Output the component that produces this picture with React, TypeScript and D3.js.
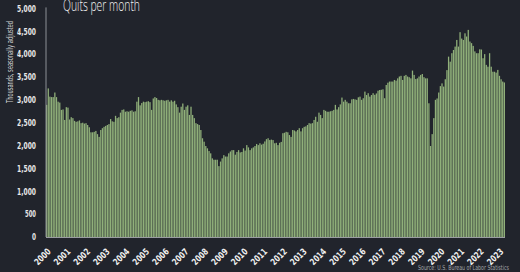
import React from 'react';
import * as d3 from 'd3';

// Monthly quits, thousands, seasonally adjusted
const quits: number[] = [
  2890,
  3250, 3070, 3060, 3060, 3160, 3060, 2960, 2940, 2780, 2790, 2560, 2840,
  2830, 2570, 2620, 2600, 2540, 2520, 2530, 2550, 2490, 2500, 2480, 2490,
  2450, 2400, 2290, 2290, 2300, 2320, 2250, 2190, 2340, 2380, 2410, 2430,
  2450, 2470, 2580, 2530, 2520, 2650, 2600, 2620, 2720, 2780, 2790, 2740,
  2750, 2740, 2760, 2770, 2740, 2750, 2960, 3060, 2880, 2930, 2960, 2950,
  2960, 2970, 2950, 2780, 3030, 3060, 3040, 3000, 2990, 3000, 2990, 2980,
  2990, 3000, 2960, 2990, 2960, 2980, 2900, 2840, 2720, 2850, 2920, 2780,
  2850, 2880, 2670, 2850, 2670, 2600, 2490, 2470, 2450, 2340, 2160, 2085,
  1990, 1940, 1880, 1830, 1720, 1690, 1690, 1690, 1550, 1650, 1720, 1790,
  1760, 1760, 1830, 1870, 1900, 1900, 1800, 1860, 1900, 1850, 1860, 1940,
  1890, 2010, 1960, 1900, 1940, 1960, 1990, 2035, 2010, 2050, 2020, 2040,
  2090, 2140, 2160, 2120, 2130, 2120, 2050, 2060, 2010, 2060, 2080, 2270,
  2280, 2300, 2290, 2230, 2190, 2340, 2330, 2310, 2340, 2380, 2310, 2380,
  2410, 2420, 2450, 2490, 2480, 2490, 2560, 2630, 2520, 2720, 2670, 2600,
  2780, 2760, 2740, 2740, 2750, 2760, 2780, 2890, 2790, 2840, 2900, 3050,
  2960, 3000, 2960, 2925, 2925, 3010, 3020, 3010, 3000, 3055, 3070, 3000,
  3035, 3180, 3105, 3145, 3070, 3105, 3145, 3110, 3140, 3200, 3215, 3220,
  3230, 3035, 3325, 3375, 3400, 3400, 3400, 3435, 3420, 3470, 3510, 3525,
  3435, 3525, 3545, 3510, 3495, 3470, 3640, 3545, 3455, 3470, 3510, 3545,
  3565, 3495, 3470, 3470, 2925, 1990, 2250, 2600, 3000, 3030, 3160, 3300,
  3360, 3290, 3450, 3650, 3945, 3835, 4020, 4090, 4165, 4310, 4165, 4480,
  4340, 4310, 4455, 4385, 4530, 4275, 4240, 4180, 4060, 4020, 4020, 4105,
  4100, 3910, 4000, 3765, 3725, 4020, 3725, 3615, 3615, 3595, 3655, 3525,
  3450, 3400, 3380,
];

const yearLabels: string[] = [
  '2000', '2001', '2002', '2003', '2004', '2005', '2006', '2007',
  '2008', '2009', '2010', '2011', '2012', '2013', '2014', '2015',
  '2016', '2017', '2018', '2019', '2020', '2021', '2022', '2023',
];

const yTicks: number[] = [0, 500, 1000, 1500, 2000, 2500, 3000, 3500, 4000, 4500, 5000];

const titleText = 'Quits per month';
const yAxisTitle = 'Thousands, seasonally adjusted';
const sourceText = 'Source: U.S. Bureau of Labor Statistics';

export default function App() {
  const W = 520;
  const H = 272;
  const bg = '#21242c';
  const font = "'Liberation Sans Narrow','DejaVu Sans Condensed','Open Sans',sans-serif";

  const x = d3
    .scaleBand<number>()
    .domain(quits.map((_, i) => i))
    .range([46, 505])
    .paddingInner(0.22)
    .paddingOuter(0);
  const y = d3.scaleLinear().domain([0, 5000]).range([237, 8.4]);
  const fmt = d3.format(',');

  return (
    <svg
      width={W}
      height={H}
      style={{ position: 'absolute', left: 0, top: 0, display: 'block' }}
    >
      <rect x={0} y={0} width={W} height={H} fill={bg} />

      {/* bars */}
      <g>
        {quits.map((v, i) => (
          <rect
            key={i}
            x={x(i)}
            y={y(v)}
            width={x.bandwidth()}
            height={y(0) - y(v)}
            fill="#90b07a"
          />
        ))}
      </g>

      {/* axes lines */}
      <line x1={46} x2={46} y1={y(5000) - 1} y2={y(0)} stroke="#8d9096" strokeWidth={1} />
      <line x1={46} x2={505} y1={y(0) + 0.5} y2={y(0) + 0.5} stroke="#9a9ca2" strokeWidth={1} />

      {/* y ticks */}
      {yTicks.map((t) => {
        const s = fmt(t);
        return (
          <text
            key={t}
            x={36}
            y={y(t)}
            dy="0.35em"
            textAnchor="end"
            fontFamily={font}
            fontSize={9.5}
            fontWeight={600}
            fill="#e8e8e8"
            textLength={s.length === 1 ? 4 : s.length === 3 ? 11 : 19}
            lengthAdjust="spacingAndGlyphs"
          >
            {s}
          </text>
        );
      })}

      {/* x labels */}
      {yearLabels.map((lab, k) => {
        const cx = (x(k * 12) ?? 0) + x.bandwidth() / 2 + 2.5;
        return (
          <text
            key={lab}
            transform={`translate(${cx},250) rotate(-45)`}
            dy="0.35em"
            textAnchor="end"
            fontFamily={font}
            fontSize={9}
            fontWeight={700}
            fill="#f0f0f0"
            textLength={19}
            lengthAdjust="spacingAndGlyphs"
          >
            {lab}
          </text>
        );
      })}

      {/* y axis title */}
      <text
        transform="translate(10,62) rotate(-90)"
        dy="0.35em"
        textAnchor="middle"
        fontFamily={font}
        fontSize={8.5}
        fill="#d0d0d0"
        textLength={82}
        lengthAdjust="spacingAndGlyphs"
      >
        {yAxisTitle}
      </text>

      {/* title */}
      <text
        x={63}
        y={11}
        fontFamily="'Open Sans','Lato',sans-serif"
        fontWeight={300}
        fontSize={16}
        fill="#f2f2f2"
        textLength={77}
        lengthAdjust="spacingAndGlyphs"
      >
        {titleText}
      </text>

      {/* source */}
      <text
        x={509}
        y={269.5}
        textAnchor="end"
        fontFamily={font}
        fontSize={7}
        fill="#a5a7ab"
        textLength={91}
        lengthAdjust="spacingAndGlyphs"
      >
        {sourceText}
      </text>
    </svg>
  );
}
